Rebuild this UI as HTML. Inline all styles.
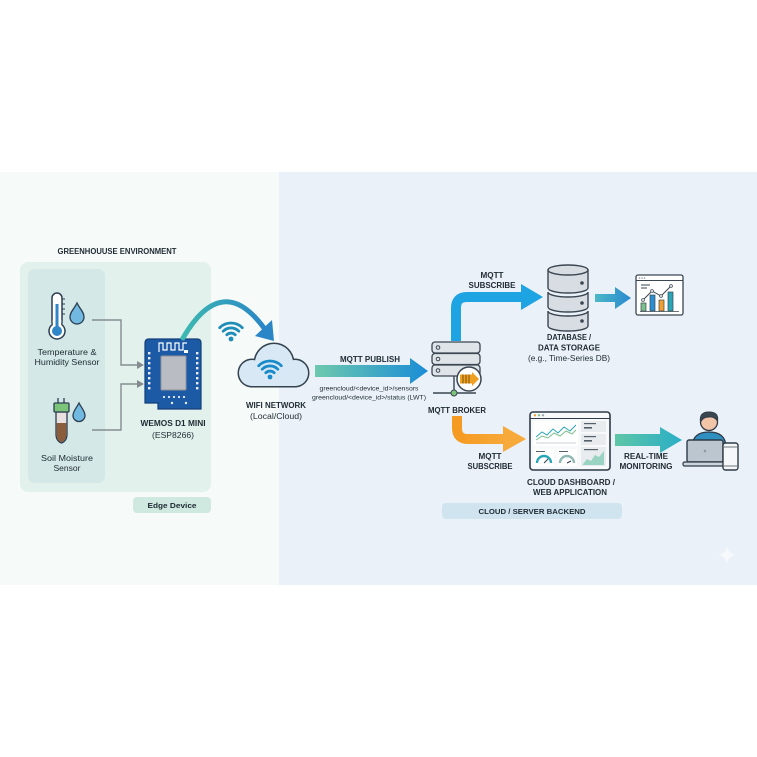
<!DOCTYPE html>
<html><head><meta charset="utf-8"><style>
html,body{margin:0;padding:0;background:#fff;}
svg{display:block;}
text{font-family:"Liberation Sans",Arial,sans-serif;fill:#1f2a33;}
.b{font-weight:bold;font-size:8px;}
.r{font-size:8px;}
</style></head><body>
<svg width="757" height="757" viewBox="0 0 757 757" xmlns="http://www.w3.org/2000/svg">
<defs>
<linearGradient id="gArc" x1="0" y1="0" x2="1" y2="0"><stop offset="0" stop-color="#3db8b2"/><stop offset="1" stop-color="#2a86c6"/></linearGradient>
<linearGradient id="gPub" x1="0" y1="0" x2="1" y2="0"><stop offset="0" stop-color="#6dc9ae"/><stop offset="1" stop-color="#1a8dd6"/></linearGradient>
<linearGradient id="gDb" x1="0" y1="0" x2="1" y2="0"><stop offset="0" stop-color="#4cb8c6"/><stop offset="1" stop-color="#2a88d0"/></linearGradient>
<linearGradient id="gRt" x1="0" y1="0" x2="1" y2="0"><stop offset="0" stop-color="#5ec6a6"/><stop offset="1" stop-color="#2aaec8"/></linearGradient>
<linearGradient id="gOr" x1="0" y1="0" x2="1" y2="0"><stop offset="0" stop-color="#f59a22"/><stop offset="1" stop-color="#f7a93a"/></linearGradient>
</defs>
<rect width="757" height="757" fill="#fff"/>
<rect x="0" y="172" width="279" height="413" fill="#f6faf9"/>
<rect x="279" y="172" width="478" height="413" fill="#eaf1f9"/>

<!-- greenhouse panel -->
<rect x="20" y="262" width="191" height="230" rx="8" fill="#e2f1ec"/>
<rect x="28" y="269" width="77" height="214" rx="7" fill="#d3e8e7"/>
<text class="b" x="117" y="254" text-anchor="middle" textLength="119" lengthAdjust="spacingAndGlyphs">GREENHOUUSE ENVIRONMENT</text>

<!-- thermometer -->
<rect x="52" y="293" width="10" height="34" rx="5" fill="#fff" stroke="#2d3e50" stroke-width="1.5"/>
<circle cx="57" cy="331" r="8" fill="#fff" stroke="#2d3e50" stroke-width="1.5"/>
<rect x="52.8" y="320" width="8.4" height="8" fill="#fff"/>
<line x1="57" y1="304" x2="57" y2="330" stroke="#2f86c8" stroke-width="3"/>
<circle cx="57" cy="331" r="5" fill="#2f86c8"/>
<g stroke="#2d3e50" stroke-width="1"><line x1="62" y1="299" x2="65" y2="299"/><line x1="62" y1="304" x2="65" y2="304"/><line x1="62" y1="309" x2="65" y2="309"/><line x1="62" y1="314" x2="65" y2="314"/></g>
<path d="M77 303 C80 309 84 312 84 317 A7 7 0 0 1 70 317 C70 312 74 309 77 303 Z" fill="#72b9e2" stroke="#2d3e50" stroke-width="1.3"/>
<text class="r" x="67" y="355" text-anchor="middle" textLength="59" lengthAdjust="spacingAndGlyphs">Temperature &amp;</text>
<text class="r" x="67" y="365" text-anchor="middle" textLength="65" lengthAdjust="spacingAndGlyphs">Humidity Sensor</text>

<!-- soil sensor -->
<g stroke="#2d3e50" stroke-width="1.3"><line x1="58" y1="398" x2="58" y2="403"/><line x1="64" y1="398" x2="64" y2="403"/></g>
<path d="M56 412 V434 Q56 441 61.5 443 Q67 441 67 434 V412 Z" fill="#e9e0e2" stroke="#2d3e50" stroke-width="1.3"/>
<path d="M56.7 423 V434 Q56.7 440.5 61.5 442.2 Q66.3 440.5 66.3 434 V423 Z" fill="#8a5d3c"/>
<rect x="54" y="403" width="15" height="9" rx="1" fill="#7cc47a" stroke="#2d3e50" stroke-width="1.3"/>
<path d="M79 403 C81.5 408 85 411 85 415.5 A6 6 0 0 1 73 415.5 C73 411 76.5 408 79 403 Z" fill="#72b9e2" stroke="#2d3e50" stroke-width="1.3"/>
<text class="r" x="67" y="461" text-anchor="middle" textLength="52" lengthAdjust="spacingAndGlyphs">Soil Moisture</text>
<text class="r" x="67" y="471" text-anchor="middle" textLength="27" lengthAdjust="spacingAndGlyphs">Sensor</text>

<!-- connectors -->
<g fill="none" stroke="#858c90" stroke-width="1.4"><path d="M92 320 H121 V365 H138"/><path d="M92 430 H121 V384 H138"/></g>
<polygon points="137,361 144,365 137,369" fill="#858c90"/>
<polygon points="137,380 144,384 137,388" fill="#858c90"/>

<!-- wemos board -->
<path d="M149 339 H197 Q201 339 201 343 V409 H158 V403 H145 V343 Q145 339 149 339 Z" fill="#1d5aa6" stroke="#123f78" stroke-width="1.2"/>
<path d="M159 352 V343 H163 V350 H167 V343 H171 V350 H175 V343 H179 V350 H183 V343 H187" fill="none" stroke="#fff" stroke-width="1.2"/>
<rect x="184" y="350" width="4" height="3" fill="#fff"/>
<rect x="161" y="356" width="25" height="34" rx="1" fill="#b9bdc3" stroke="#8e939a" stroke-width="1"/>
<g fill="#e8eef6">
<rect x="148" y="352" width="2.4" height="2.4"/><rect x="148" y="357" width="2.4" height="2.4"/><rect x="148" y="362" width="2.4" height="2.4"/><rect x="148" y="367" width="2.4" height="2.4"/><rect x="148" y="372" width="2.4" height="2.4"/><rect x="148" y="377" width="2.4" height="2.4"/><rect x="148" y="382" width="2.4" height="2.4"/><rect x="148" y="387" width="2.4" height="2.4"/>
<rect x="196" y="352" width="2.4" height="2.4"/><rect x="196" y="357" width="2.4" height="2.4"/><rect x="196" y="362" width="2.4" height="2.4"/><rect x="196" y="367" width="2.4" height="2.4"/><rect x="196" y="372" width="2.4" height="2.4"/><rect x="196" y="377" width="2.4" height="2.4"/><rect x="196" y="382" width="2.4" height="2.4"/><rect x="196" y="387" width="2.4" height="2.4"/>
<circle cx="164" cy="397" r="1.1"/><circle cx="169" cy="397" r="1.1"/><circle cx="174" cy="397" r="1.1"/><circle cx="179" cy="397" r="1.1"/><circle cx="184" cy="397" r="1.1"/>
<circle cx="172" cy="403" r="1.2"/><circle cx="186" cy="403" r="1.2"/>
</g>
<text class="b" x="173" y="426" text-anchor="middle" textLength="65" lengthAdjust="spacingAndGlyphs">WEMOS D1 MINI</text>
<text class="r" x="173" y="438" text-anchor="middle" textLength="42" lengthAdjust="spacingAndGlyphs">(ESP8266)</text>

<rect x="133" y="497" width="78" height="16" rx="4" fill="#cfe9e0"/>
<text class="b" x="172" y="508" text-anchor="middle" textLength="49" lengthAdjust="spacingAndGlyphs" style="font-size:7.5px">Edge Device</text>

<!-- arc arrow -->
<path d="M183 338 Q222 271 264 328" fill="none" stroke="url(#gArc)" stroke-width="5" stroke-linecap="round"/>
<polygon points="255,336 272,320 274,341" fill="#2a86c6"/>

<!-- top wifi -->
<g fill="none" stroke="#1f8db8" stroke-width="2.8" stroke-linecap="round">
<path d="M226.8 334.8 A6 6 0 0 1 235.2 334.8"/>
<path d="M223.2 331.2 A11 11 0 0 1 238.8 331.2"/>
<path d="M219.7 327.7 A16 16 0 0 1 242.3 327.7"/>
</g>
<circle cx="231" cy="339" r="2.4" fill="#1f8db8"/>

<!-- cloud -->
<g stroke="#34434f" stroke-width="3" fill="#34434f">
<circle cx="252" cy="373" r="13"/><circle cx="274" cy="363" r="19"/><circle cx="295" cy="373" r="13"/><rect x="252" y="366" width="43" height="20"/>
</g>
<g fill="#d8e8f4">
<circle cx="252" cy="373" r="13"/><circle cx="274" cy="363" r="19"/><circle cx="295" cy="373" r="13"/><rect x="252" y="366" width="43" height="20"/>
</g>
<g fill="none" stroke="#1a8bc9" stroke-width="2.8" stroke-linecap="round">
<path d="M265.8 372.8 A6 6 0 0 1 274.2 372.8"/>
<path d="M262.2 369.2 A11 11 0 0 1 277.8 369.2"/>
<path d="M258.7 365.7 A16 16 0 0 1 281.3 365.7"/>
</g>
<circle cx="270" cy="377" r="2.4" fill="#1a8bc9"/>
<text class="b" x="276" y="408" text-anchor="middle" textLength="60" lengthAdjust="spacingAndGlyphs">WIFI NETWORK</text>
<text class="r" x="276" y="419" text-anchor="middle" textLength="52" lengthAdjust="spacingAndGlyphs">(Local/Cloud)</text>

<!-- MQTT publish -->
<polygon points="315,365 410,365 410,358 428,371 410,384 410,377 315,377" fill="url(#gPub)"/>
<text class="b" x="370" y="362" text-anchor="middle" textLength="60" lengthAdjust="spacingAndGlyphs">MQTT PUBLISH</text>
<text class="r" x="369" y="390.5" text-anchor="middle" textLength="99" lengthAdjust="spacingAndGlyphs" style="font-size:6.5px">greencloud/&lt;device_id&gt;/sensors</text>
<text class="r" x="369" y="399.5" text-anchor="middle" textLength="114" lengthAdjust="spacingAndGlyphs" style="font-size:6.5px">greencloud/&lt;device_id&gt;/status (LWT)</text>

<!-- subscribe blue -->
<path d="M456 341 V308 Q456 297 467 297 H524" fill="none" stroke="#1ea4e3" stroke-width="10"/>
<polygon points="521,284 543,297 521,310" fill="#1ea4e3"/>
<text class="b" x="492" y="278" text-anchor="middle" textLength="23" lengthAdjust="spacingAndGlyphs">MQTT</text>
<text class="b" x="492" y="288" text-anchor="middle" textLength="47" lengthAdjust="spacingAndGlyphs">SUBSCRIBE</text>

<!-- subscribe orange -->
<path d="M457 416 V428 Q457 439 468 439 H506" fill="none" stroke="url(#gOr)" stroke-width="10"/>
<polygon points="503,426 526,439 503,452" fill="#f7a93a"/>
<text class="b" x="490" y="459" text-anchor="middle" textLength="23" lengthAdjust="spacingAndGlyphs">MQTT</text>
<text class="b" x="490" y="469" text-anchor="middle" textLength="45" lengthAdjust="spacingAndGlyphs">SUBSCRIBE</text>

<!-- broker -->
<g fill="#dfe4e9" stroke="#3b4651" stroke-width="1.3">
<rect x="432" y="342" width="48" height="11" rx="3"/><rect x="432" y="353.5" width="48" height="11" rx="3"/><rect x="432" y="365" width="48" height="11" rx="3"/>
</g>
<g fill="none" stroke="#3b4651" stroke-width="1"><circle cx="438" cy="347.5" r="1.8"/><circle cx="438" cy="359" r="1.8"/><circle cx="438" cy="370.5" r="1.8"/></g>
<line x1="454" y1="376" x2="454" y2="393" stroke="#3b4651" stroke-width="1.4"/>
<line x1="433" y1="393" x2="476" y2="393" stroke="#3b4651" stroke-width="1.5"/>
<circle cx="454" cy="393" r="3" fill="#7cc47a" stroke="#3b4651" stroke-width="1"/>
<circle cx="469" cy="379" r="12" fill="#fff" stroke="#3b4651" stroke-width="1.5"/>
<rect x="460" y="374.5" width="12" height="9" fill="#f0a020"/>
<g stroke="#6a4a10" stroke-width="0.9"><line x1="463" y1="374.5" x2="463" y2="383.5"/><line x1="466" y1="374.5" x2="466" y2="383.5"/><line x1="469" y1="374.5" x2="469" y2="383.5"/></g>
<polygon points="472,372 479,379 472,386" fill="#f0a020"/>
<text class="b" x="457" y="413" text-anchor="middle" textLength="58" lengthAdjust="spacingAndGlyphs">MQTT BROKER</text>

<!-- database -->
<g fill="#d7dde3" stroke="#3b4651" stroke-width="1.4">
<path d="M548 311 A20 5 0 0 0 588 311 V326 A20 5 0 0 1 548 326 Z"/>
<path d="M548 292 A20 5 0 0 0 588 292 V307 A20 5 0 0 1 548 307 Z"/>
<path d="M548 270 V288 A20 5 0 0 0 588 288 V270 Z"/>
<ellipse cx="568" cy="270" rx="20" ry="5"/>
</g>
<g fill="#3b4651"><circle cx="582" cy="283" r="1.8"/><circle cx="582" cy="303" r="1.8"/><circle cx="582" cy="321" r="1.8"/></g>
<text class="b" x="569" y="340" text-anchor="middle" textLength="44" lengthAdjust="spacingAndGlyphs">DATABASE /</text>
<text class="b" x="569" y="350.5" text-anchor="middle" textLength="62" lengthAdjust="spacingAndGlyphs">DATA STORAGE</text>
<text class="r" x="569" y="361" text-anchor="middle" textLength="82" lengthAdjust="spacingAndGlyphs">(e.g., Time-Series DB)</text>

<!-- db arrow -->
<polygon points="595,294 615,294 615,287 631,298 615,309 615,302 595,302" fill="url(#gDb)"/>

<!-- chart window -->
<rect x="636" y="275" width="47" height="40" rx="2" fill="#fff" stroke="#3b4651" stroke-width="1.3"/>
<line x1="636" y1="280.5" x2="683" y2="280.5" stroke="#3b4651" stroke-width="1"/>
<g fill="#8a96a0"><circle cx="639.5" cy="278" r="0.8"/><circle cx="642" cy="278" r="0.8"/><circle cx="644.5" cy="278" r="0.8"/></g>
<g stroke="#3b4651" stroke-width="1"><line x1="641" y1="285" x2="650" y2="285"/><line x1="641" y1="288" x2="647" y2="288"/></g>
<rect x="641" y="303" width="5" height="8" fill="#7cbf8a" stroke="#3b4651" stroke-width="0.7"/>
<rect x="650" y="295" width="5" height="16" fill="#2a8fd0" stroke="#3b4651" stroke-width="0.7"/>
<rect x="659" y="300" width="5" height="11" fill="#f0a030" stroke="#3b4651" stroke-width="0.7"/>
<rect x="668" y="292" width="5" height="19" fill="#2aa5b5" stroke="#3b4651" stroke-width="0.7"/>
<polyline points="643,300 652,291 661,296 671,286" fill="none" stroke="#3b4651" stroke-width="1"/>
<g fill="#fff" stroke="#3b4651" stroke-width="0.8"><circle cx="643" cy="300" r="1.4"/><circle cx="652" cy="291" r="1.4"/><circle cx="661" cy="296" r="1.4"/><circle cx="671" cy="286" r="1.4"/></g>
<line x1="640" y1="311.5" x2="679" y2="311.5" stroke="#3b4651" stroke-width="0.8"/>

<!-- dashboard -->
<rect x="530" y="412" width="80" height="58" rx="3" fill="#f7f9fb" stroke="#2f3b47" stroke-width="1.6"/>
<line x1="530" y1="418.5" x2="610" y2="418.5" stroke="#2f3b47" stroke-width="1"/>
<circle cx="535" cy="415.3" r="1.2" fill="#f0a030"/><circle cx="539" cy="415.3" r="1.2" fill="#7cbf8a"/><circle cx="543" cy="415.3" r="1.2" fill="#9aa6b0"/>
<rect x="534" y="421" width="44" height="25" fill="#fff"/>
<polyline points="536,437 542,432 547,435 553,429 558,433 564,427 570,431 576,425" fill="none" stroke="#2aa5b5" stroke-width="1"/>
<polyline points="536,440 542,436 548,438 554,433 560,436 566,431 572,434 576,430" fill="none" stroke="#7cbf8a" stroke-width="1"/>
<line x1="536" y1="443" x2="576" y2="443" stroke="#9aa6b0" stroke-width="0.6"/>
<rect x="581" y="421" width="25" height="11" fill="#e8ecef"/>
<rect x="581" y="434" width="25" height="11" fill="#e8ecef"/>
<rect x="581" y="447" width="25" height="19" fill="#e8ecef"/>
<path d="M583 464 L587 459 L591 461 L595 455 L599 457 L604 451 V465 H583 Z" fill="#9bd3c2"/>
<g fill="#55606a"><rect x="584" y="423" width="12" height="1.2"/><rect x="584" y="427" width="8" height="1.6"/><rect x="584" y="436" width="12" height="1.2"/><rect x="584" y="440" width="8" height="1.6"/><rect x="584" y="449" width="14" height="1.2"/></g>
<rect x="534" y="449" width="20" height="17" fill="#fff"/>
<rect x="557" y="449" width="20" height="17" fill="#fff"/>
<g fill="#55606a"><rect x="536" y="451" width="9" height="1"/><rect x="559" y="451" width="9" height="1"/></g>
<path d="M537 463 A7 7 0 0 1 551 463" fill="none" stroke="#2aa5b5" stroke-width="2.4"/>
<path d="M560 463 A7 7 0 0 1 574 463" fill="none" stroke="#8fb8b4" stroke-width="2.4"/>
<line x1="544" y1="463" x2="548" y2="459" stroke="#2f3b47" stroke-width="1"/>
<line x1="567" y1="463" x2="571" y2="461" stroke="#2f3b47" stroke-width="1"/>
<text class="b" x="571" y="485" text-anchor="middle" textLength="88" lengthAdjust="spacingAndGlyphs">CLOUD DASHBOARD /</text>
<text class="b" x="570" y="495" text-anchor="middle" textLength="74" lengthAdjust="spacingAndGlyphs">WEB APPLICATION</text>

<!-- real-time arrow -->
<polygon points="615,434 660,434 660,427 682,440 660,453 660,446 615,446" fill="url(#gRt)"/>
<text class="b" x="646" y="459" text-anchor="middle" textLength="44" lengthAdjust="spacingAndGlyphs">REAL-TIME</text>
<text class="b" x="646" y="469" text-anchor="middle" textLength="53" lengthAdjust="spacingAndGlyphs">MONITORING</text>

<!-- person -->
<path d="M692 446 Q693 432 709 432 Q725 432 726 446 Z" fill="#2f8fc0" stroke="#2f3b47" stroke-width="1.3"/>
<circle cx="709" cy="422" r="8.5" fill="#f2c4a8" stroke="#2f3b47" stroke-width="1.3"/>
<path d="M700.5 422 Q699 412 709 412 Q719 412 717.5 421 Q714 416 709 417 Q703 417 700.5 422 Z" fill="#3a4650" stroke="#2f3b47" stroke-width="1"/>
<rect x="687" y="440" width="36" height="22" rx="2" fill="#bcc6cf" stroke="#2f3b47" stroke-width="1.4"/>
<circle cx="705" cy="451" r="1.3" fill="#8e99a3"/>
<rect x="683" y="462" width="44" height="4" rx="1.5" fill="#cdd4db" stroke="#2f3b47" stroke-width="1.2"/>
<rect x="723" y="443" width="15" height="27" rx="2.5" fill="#f5f7f9" stroke="#2f3b47" stroke-width="1.4"/>
<line x1="724" y1="447" x2="737" y2="447" stroke="#2f3b47" stroke-width="0.7"/>
<line x1="724" y1="466" x2="737" y2="466" stroke="#2f3b47" stroke-width="0.7"/>

<!-- backend label -->
<rect x="442" y="503" width="180" height="16" rx="4" fill="#cfe4ef"/>
<text class="b" x="532" y="514" text-anchor="middle" textLength="107" lengthAdjust="spacingAndGlyphs" style="font-size:7.5px">CLOUD / SERVER BACKEND</text>

<!-- sparkle -->
<path d="M727 546 Q728.3 553.7 736 555 Q728.3 556.3 727 564 Q725.7 556.3 718 555 Q725.7 553.7 727 546 Z" fill="#ffffff" opacity="0.6"/>
</svg>
</body></html>
